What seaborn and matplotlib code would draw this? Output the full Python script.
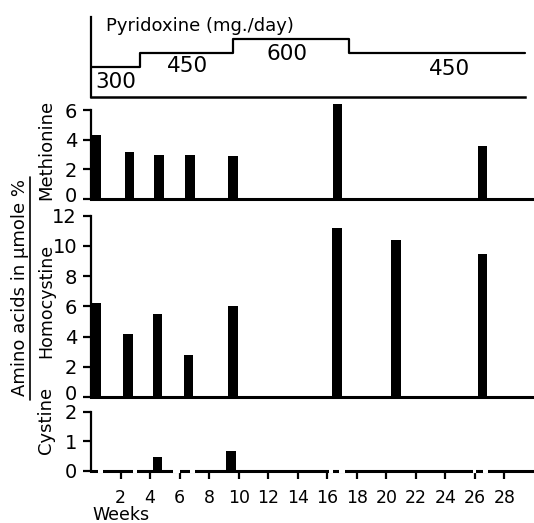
import numpy as np
import pandas as pd
import matplotlib
matplotlib.use('Agg')
import matplotlib.pyplot as plt
import matplotlib.transforms as mtrans
import seaborn as sns

# pyridoxine dose schedule
dose_weeks = [0, 3.3, 9.6, 17.5, 29.4]
dose_mg = [300, 450, 600, 450, 450]
dose_labels = ['300', '450', '600', '450']

# amino acid bars (weeks, umole %)
met_weeks = [0.35, 2.6, 4.6, 6.7, 9.6, 16.7, 26.5]
met_vals = [4.3, 3.2, 3.0, 3.0, 2.9, 6.4, 3.6]

hcy_weeks = [0.35, 2.5, 4.5, 6.6, 9.6, 16.65, 20.65, 26.5]
hcy_vals = [6.25, 4.2, 5.5, 2.75, 6.05, 11.2, 10.4, 9.5]

cys_weeks = [4.5, 9.5]
cys_vals = [0.47, 0.68]

week_ticks = list(range(2, 30, 2))
# breaks drawn in the bottom axis line
axis_gaps = [(0.5, 0.8), (2.85, 3.1), (5.55, 6.0), (6.7, 7.05),
             (16.1, 16.4), (16.8, 17.2), (25.9, 26.1), (26.55, 26.9)]

sns.set_style('white')
plt.rcParams['font.family'] = ['DejaVu Sans']
plt.rcParams.update({'text.color': 'black', 'axes.labelcolor': 'black',
                     'xtick.color': 'black', 'ytick.color': 'black'})

W, H = 534, 523
fig = plt.figure(figsize=(W/100, H/100), dpi=100)

def fax(top_px, bot_px):
    return [91/W, 1 - bot_px/H, 1 - 91/W, (bot_px - top_px)/H]

ax_p = fig.add_axes(fax(17, 97))
ax_m = fig.add_axes(fax(95.4, 199))
ax_h = fig.add_axes(fax(206.7, 397))
ax_c = fig.add_axes(fax(406, 471))

bar_w = 0.65

def bars(ax, weeks, vals):
    d = pd.DataFrame({'week': weeks, 'val': vals})
    mind = np.min(np.diff(sorted(weeks)))
    sns.barplot(data=d, x='week', y='val', native_scale=True, color='black',
                width=bar_w/mind, errorbar=None, ax=ax, saturation=1, linewidth=0)

bars(ax_m, met_weeks, met_vals)
bars(ax_h, hcy_weeks, hcy_vals)
bars(ax_c, cys_weeks, cys_vals)

for ax in [ax_p, ax_m, ax_h, ax_c]:
    ax.set_xlim(0, 30)
    ax.set_facecolor('none')
    ax.set_xlabel('')
    ax.set_ylabel('')
    for s in ['top', 'right']:
        ax.spines[s].set_visible(False)
    ax.spines['left'].set_linewidth(1.6)
    ax.spines['bottom'].set_linewidth(2.2)
    ax.spines['left'].set_color('black')
    ax.spines['bottom'].set_color('black')

# pyridoxine panel
pdf = pd.DataFrame({'week': dose_weeks, 'mg': dose_mg})
sns.lineplot(data=pdf, x='week', y='mg', drawstyle='steps-post', color='black',
             lw=1.6, estimator=None, sort=False, ax=ax_p)
ax_p.set_ylim(-21.5, 836)
ax_p.set_xticks([])
ax_p.set_yticks([])
ax_p.set_xlabel('')
ax_p.set_ylabel('')
ax_p.spines['bottom'].set_bounds(0, 29.4)
ax_p.spines['bottom'].set_linewidth(1.8)
ax_p.text(1.0, 739, 'Pyridoxine (mg./day)', fontsize=13, va='center', ha='left')
ax_p.text(0.3, 139, dose_labels[0], fontsize=15.5, va='center', ha='left')
ax_p.text(6.55, 311, dose_labels[1], fontsize=15.5, va='center', ha='center')
ax_p.text(13.25, 439, dose_labels[2], fontsize=15.5, va='center', ha='center')
ax_p.text(24.25, 278, dose_labels[3], fontsize=15.5, va='center', ha='center')

# amino acid panels
ax_m.set_ylim(0, 7)
ax_m.set_yticks([0, 2, 4, 6])
ax_m.spines['left'].set_bounds(0, 6)
ax_h.set_ylim(0, 12.6)
ax_h.set_yticks(range(0, 13, 2))
ax_h.spines['left'].set_bounds(0, 12)
ax_c.set_ylim(0, 2.2)
ax_c.set_yticks([0, 1, 2])
ax_c.spines['left'].set_bounds(0, 2)

for ax in [ax_m, ax_h, ax_c]:
    ax.tick_params(axis='y', direction='out', length=6, width=1.6, pad=4,
                   labelsize=14, left=True, color='black')

# the zero labels sit a little above the base line, as in the original
fig.canvas.draw()
for ax in [ax_m, ax_h]:
    lab = ax.get_yticklabels()[0]
    lab.set_transform(lab.get_transform() +
                      mtrans.ScaledTranslation(0, 5/100, fig.dpi_scale_trans))

for ax in [ax_m, ax_h]:
    ax.set_xticks([])

ax_c.set_xticks(week_ticks)
ax_c.set_xticklabels([str(t) for t in week_ticks])
ax_c.tick_params(axis='x', direction='out', length=6, width=1.6, pad=7,
                 labelsize=12.5, bottom=True, color='black')
for a, b in axis_gaps:
    ax_c.plot([a, b], [0, 0], color='white', lw=3, solid_capstyle='butt',
              clip_on=False, zorder=5)

fig.text(46/W, 1 - 150/H, 'Methionine', rotation=90, fontsize=13, ha='center', va='center')
fig.text(46/W, 1 - 301/H, 'Homocystine', rotation=90, fontsize=12.5, ha='center', va='center')
fig.text(46/W, 1 - 420/H, 'Cystine', rotation=90, fontsize=13, ha='center', va='center')
fig.text(20/W, 1 - 288/H, 'Amino acids in μmole %', rotation=90, fontsize=13,
         ha='center', va='center')
fig.add_artist(plt.Line2D([30/W, 30/W], [1 - 400/H, 1 - 177/H], color='black', lw=1.2))
fig.text(92/W, -0.002, 'Weeks', fontsize=12.5, ha='left', va='bottom')

fig.savefig('out.png', dpi=100)
